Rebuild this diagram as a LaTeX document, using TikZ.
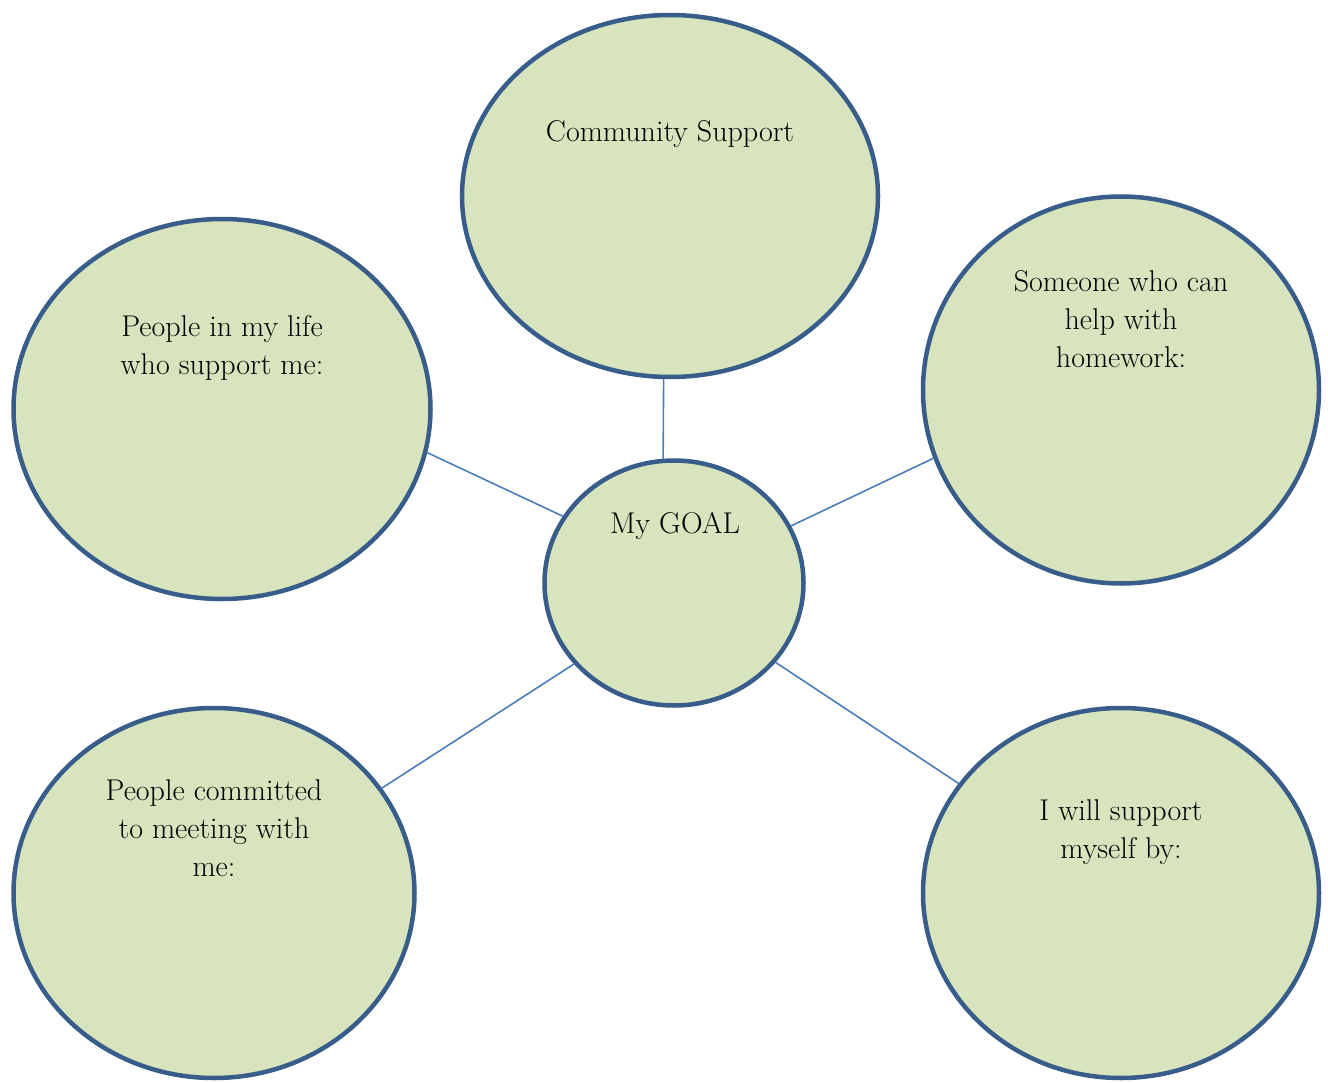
\documentclass[tikz,border=0pt]{standalone}
\usetikzlibrary{shapes.geometric}
\definecolor{rim}{HTML}{385D8A}
\definecolor{leaf}{HTML}{D7E4BD}
\definecolor{link}{HTML}{4A7EBB}
\begin{document}
\begin{tikzpicture}[x=1pt,y=-1pt,
  bubble/.style={ellipse,draw=rim,fill=leaf,line width=4.5pt,inner sep=0pt},
  caption/.style={align=center,font=\fontsize{30}{38}\selectfont,inner sep=0pt,anchor=base},
  tie/.style={draw=link,line width=1.6pt}]
  \useasboundingbox (0,0) rectangle (1328,1083);

  % outer bubbles and the central goal
  \node[bubble,minimum width=416pt,minimum height=362pt] (community) at (670,196) {};
  \node[bubble,minimum width=417pt,minimum height=380pt] (people)    at (222,409) {};
  \node[bubble,minimum width=396pt,minimum height=387pt] (homework)  at (1121,390) {};
  \node[bubble,minimum width=259pt,minimum height=245pt] (goal)      at (674,583) {};
  \node[bubble,minimum width=401pt,minimum height=370pt] (committed) at (214,893) {};
  \node[bubble,minimum width=396pt,minimum height=370pt] (myself)    at (1121,893) {};

  % captions (anchored at the baseline of their last line)
  \node[caption] (tcommunity) at (670,142) {Community Support};
  \node[caption] (tpeople)    at (222,374) {People in my life\\who support me:};
  \node[caption] (thomework)  at (1121,367) {Someone who can\\help with\\homework:};
  \node[caption] (tgoal)      at (675,533) {My GOAL};
  \node[caption] (tcommitted) at (214,876) {People committed\\to meeting with\\me:};
  \node[caption] (tmyself)    at (1121,858) {I will support\\myself by:};

  % spokes
  \draw[tie] (community.-92.2) -- (goal.95.1);
  \draw[tie] (people.-12.9) -- (goal.149.7);
  \draw[tie] (homework.-160.6) -- (goal.26.4);
  \draw[tie] (committed.32.8) -- (goal.219.1);
  \draw[tie] (myself.146.4) -- (goal.-38.8);
\end{tikzpicture}
\end{document}
